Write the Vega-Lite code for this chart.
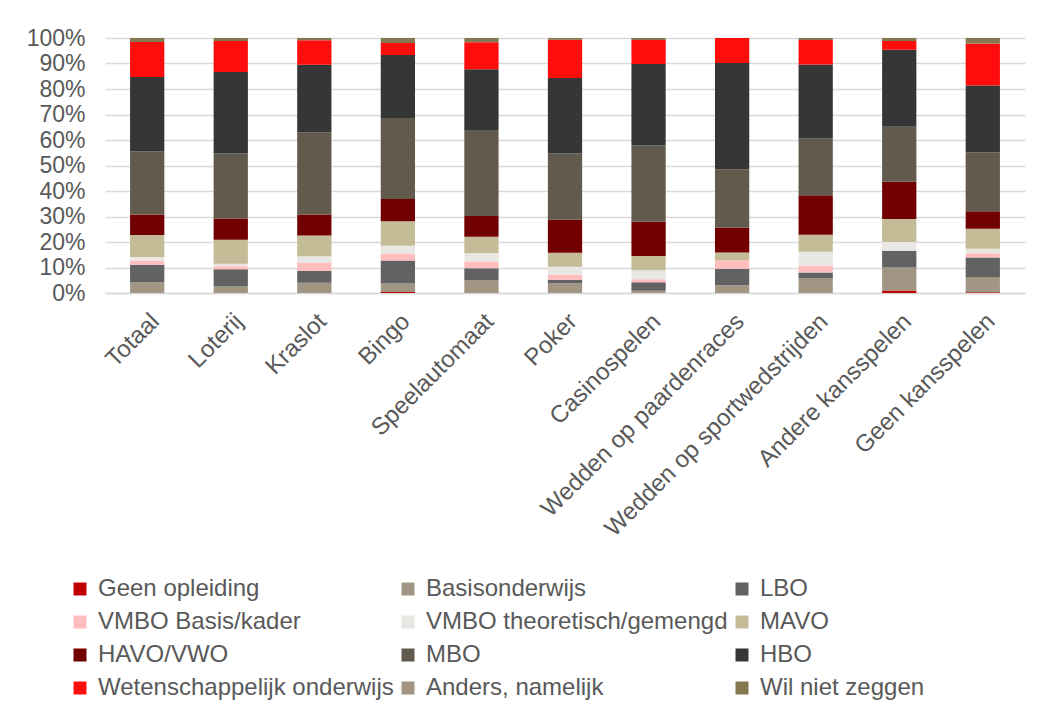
{
  "$schema": "https://vega.github.io/schema/vega-lite/v6.json",
  "autosize": "none",
  "width": 920,
  "height": 255,
  "padding": {"left": 105, "top": 38, "right": 34, "bottom": 422},
  "background": "white",
  "config": {
    "font": "Liberation Sans",
    "view": {"stroke": null}
  },
  "data": {
    "values": [
      {"c": "Totaal", "n": "Basisonderwijs", "v": 4.2},
      {"c": "Totaal", "n": "LBO", "v": 6.9},
      {"c": "Totaal", "n": "VMBO Basis/kader", "v": 1.6},
      {"c": "Totaal", "n": "VMBO theoretisch/gemengd", "v": 1.4},
      {"c": "Totaal", "n": "MAVO", "v": 8.6},
      {"c": "Totaal", "n": "HAVO/VWO", "v": 8.1},
      {"c": "Totaal", "n": "MBO", "v": 24.7},
      {"c": "Totaal", "n": "HBO", "v": 29.2},
      {"c": "Totaal", "n": "Wetenschappelijk onderwijs", "v": 13.7},
      {"c": "Totaal", "n": "Wil niet zeggen", "v": 1.6},

      {"c": "Loterij", "n": "Basisonderwijs", "v": 2.5},
      {"c": "Loterij", "n": "LBO", "v": 6.8},
      {"c": "Loterij", "n": "VMBO Basis/kader", "v": 1.2},
      {"c": "Loterij", "n": "VMBO theoretisch/gemengd", "v": 1.0},
      {"c": "Loterij", "n": "MAVO", "v": 9.4},
      {"c": "Loterij", "n": "HAVO/VWO", "v": 8.3},
      {"c": "Loterij", "n": "MBO", "v": 25.5},
      {"c": "Loterij", "n": "HBO", "v": 31.9},
      {"c": "Loterij", "n": "Wetenschappelijk onderwijs", "v": 12.1},
      {"c": "Loterij", "n": "Wil niet zeggen", "v": 1.2},

      {"c": "Kraslot", "n": "Basisonderwijs", "v": 4.0},
      {"c": "Kraslot", "n": "LBO", "v": 4.6},
      {"c": "Kraslot", "n": "VMBO Basis/kader", "v": 3.3},
      {"c": "Kraslot", "n": "VMBO theoretisch/gemengd", "v": 2.5},
      {"c": "Kraslot", "n": "MAVO", "v": 8.1},
      {"c": "Kraslot", "n": "HAVO/VWO", "v": 8.3},
      {"c": "Kraslot", "n": "MBO", "v": 32.2},
      {"c": "Kraslot", "n": "HBO", "v": 26.4},
      {"c": "Kraslot", "n": "Wetenschappelijk onderwijs", "v": 9.6},
      {"c": "Kraslot", "n": "Wil niet zeggen", "v": 0.9},

      {"c": "Bingo", "n": "Geen opleiding", "v": 0.4},
      {"c": "Bingo", "n": "Basisonderwijs", "v": 3.3},
      {"c": "Bingo", "n": "LBO", "v": 9.0},
      {"c": "Bingo", "n": "VMBO Basis/kader", "v": 2.7},
      {"c": "Bingo", "n": "VMBO theoretisch/gemengd", "v": 3.1},
      {"c": "Bingo", "n": "MAVO", "v": 9.6},
      {"c": "Bingo", "n": "HAVO/VWO", "v": 8.7},
      {"c": "Bingo", "n": "MBO", "v": 31.8},
      {"c": "Bingo", "n": "HBO", "v": 24.6},
      {"c": "Bingo", "n": "Wetenschappelijk onderwijs", "v": 4.7},
      {"c": "Bingo", "n": "Wil niet zeggen", "v": 2.0},

      {"c": "Speelautomaat", "n": "Basisonderwijs", "v": 5.1},
      {"c": "Speelautomaat", "n": "LBO", "v": 4.6},
      {"c": "Speelautomaat", "n": "VMBO Basis/kader", "v": 2.6},
      {"c": "Speelautomaat", "n": "VMBO theoretisch/gemengd", "v": 3.3},
      {"c": "Speelautomaat", "n": "MAVO", "v": 6.4},
      {"c": "Speelautomaat", "n": "HAVO/VWO", "v": 8.2},
      {"c": "Speelautomaat", "n": "MBO", "v": 33.7},
      {"c": "Speelautomaat", "n": "HBO", "v": 23.8},
      {"c": "Speelautomaat", "n": "Wetenschappelijk onderwijs", "v": 10.5},
      {"c": "Speelautomaat", "n": "Wil niet zeggen", "v": 1.7},

      {"c": "Poker", "n": "Basisonderwijs", "v": 3.8},
      {"c": "Poker", "n": "LBO", "v": 1.4},
      {"c": "Poker", "n": "VMBO Basis/kader", "v": 2.0},
      {"c": "Poker", "n": "VMBO theoretisch/gemengd", "v": 3.1},
      {"c": "Poker", "n": "MAVO", "v": 5.5},
      {"c": "Poker", "n": "HAVO/VWO", "v": 12.9},
      {"c": "Poker", "n": "MBO", "v": 26.0},
      {"c": "Poker", "n": "HBO", "v": 29.6},
      {"c": "Poker", "n": "Wetenschappelijk onderwijs", "v": 15.0},
      {"c": "Poker", "n": "Wil niet zeggen", "v": 0.7},

      {"c": "Casinospelen", "n": "Basisonderwijs", "v": 0.9},
      {"c": "Casinospelen", "n": "LBO", "v": 3.3},
      {"c": "Casinospelen", "n": "VMBO Basis/kader", "v": 1.2},
      {"c": "Casinospelen", "n": "VMBO theoretisch/gemengd", "v": 3.5},
      {"c": "Casinospelen", "n": "MAVO", "v": 5.6},
      {"c": "Casinospelen", "n": "HAVO/VWO", "v": 13.5},
      {"c": "Casinospelen", "n": "MBO", "v": 29.8},
      {"c": "Casinospelen", "n": "HBO", "v": 31.9},
      {"c": "Casinospelen", "n": "Wetenschappelijk onderwijs", "v": 9.4},
      {"c": "Casinospelen", "n": "Wil niet zeggen", "v": 0.8},

      {"c": "Wedden op paardenraces", "n": "Basisonderwijs", "v": 3.0},
      {"c": "Wedden op paardenraces", "n": "LBO", "v": 6.5},
      {"c": "Wedden op paardenraces", "n": "VMBO Basis/kader", "v": 3.3},
      {"c": "Wedden op paardenraces", "n": "MAVO", "v": 3.1},
      {"c": "Wedden op paardenraces", "n": "HAVO/VWO", "v": 9.8},
      {"c": "Wedden op paardenraces", "n": "MBO", "v": 22.8},
      {"c": "Wedden op paardenraces", "n": "HBO", "v": 41.7},
      {"c": "Wedden op paardenraces", "n": "Wetenschappelijk onderwijs", "v": 9.8},

      {"c": "Wedden op sportwedstrijden", "n": "Basisonderwijs", "v": 5.9},
      {"c": "Wedden op sportwedstrijden", "n": "LBO", "v": 2.1},
      {"c": "Wedden op sportwedstrijden", "n": "VMBO Basis/kader", "v": 2.7},
      {"c": "Wedden op sportwedstrijden", "n": "VMBO theoretisch/gemengd", "v": 5.5},
      {"c": "Wedden op sportwedstrijden", "n": "MAVO", "v": 6.6},
      {"c": "Wedden op sportwedstrijden", "n": "HAVO/VWO", "v": 15.5},
      {"c": "Wedden op sportwedstrijden", "n": "MBO", "v": 22.3},
      {"c": "Wedden op sportwedstrijden", "n": "HBO", "v": 28.9},
      {"c": "Wedden op sportwedstrijden", "n": "Wetenschappelijk onderwijs", "v": 9.6},
      {"c": "Wedden op sportwedstrijden", "n": "Wil niet zeggen", "v": 0.8},

      {"c": "Andere kansspelen", "n": "Geen opleiding", "v": 1.0},
      {"c": "Andere kansspelen", "n": "Basisonderwijs", "v": 9.0},
      {"c": "Andere kansspelen", "n": "LBO", "v": 6.6},
      {"c": "Andere kansspelen", "n": "VMBO theoretisch/gemengd", "v": 3.4},
      {"c": "Andere kansspelen", "n": "MAVO", "v": 9.0},
      {"c": "Andere kansspelen", "n": "HAVO/VWO", "v": 14.6},
      {"c": "Andere kansspelen", "n": "MBO", "v": 21.5},
      {"c": "Andere kansspelen", "n": "HBO", "v": 30.2},
      {"c": "Andere kansspelen", "n": "Wetenschappelijk onderwijs", "v": 3.4},
      {"c": "Andere kansspelen", "n": "Wil niet zeggen", "v": 1.2},

      {"c": "Geen kansspelen", "n": "Geen opleiding", "v": 0.3},
      {"c": "Geen kansspelen", "n": "Basisonderwijs", "v": 6.0},
      {"c": "Geen kansspelen", "n": "LBO", "v": 7.6},
      {"c": "Geen kansspelen", "n": "VMBO Basis/kader", "v": 1.7},
      {"c": "Geen kansspelen", "n": "VMBO theoretisch/gemengd", "v": 1.7},
      {"c": "Geen kansspelen", "n": "MAVO", "v": 7.8},
      {"c": "Geen kansspelen", "n": "HAVO/VWO", "v": 6.9},
      {"c": "Geen kansspelen", "n": "MBO", "v": 23.0},
      {"c": "Geen kansspelen", "n": "HBO", "v": 26.2},
      {"c": "Geen kansspelen", "n": "Wetenschappelijk onderwijs", "v": 16.4},
      {"c": "Geen kansspelen", "n": "Wil niet zeggen", "v": 2.2}
    ]
  },
  "transform": [
    {"calculate": "indexof(['Geen opleiding', 'Basisonderwijs', 'LBO', 'VMBO Basis/kader', 'VMBO theoretisch/gemengd', 'MAVO', 'HAVO/VWO', 'MBO', 'HBO', 'Wetenschappelijk onderwijs', 'Anders, namelijk', 'Wil niet zeggen'], datum.n)", "as": "k"}
  ],
  "mark": {"type": "bar"},
  "encoding": {
    "x": {
      "field": "c",
      "type": "nominal",
      "sort": null,
      "scale": {"paddingInner": 0.59, "paddingOuter": 0.3},
      "axis": {
        "title": null,
        "labelAngle": -45,
        "labelFontSize": 24,
        "labelColor": "#595959",
        "labelPadding": 16,
        "labelLimit": 400,
        "ticks": false,
        "domainColor": "#D9D9D9",
        "domainWidth": 1.5
      }
    },
    "y": {
      "field": "v",
      "type": "quantitative",
      "stack": "normalize",
      "scale": {"domain": [0, 1], "nice": false},
      "axis": {
        "title": null,
        "format": ".0%",
        "values": [0, 0.1, 0.2, 0.3, 0.4, 0.5, 0.6, 0.7, 0.8, 0.9, 1],
        "labelFontSize": 23,
        "labelColor": "#595959",
        "labelPadding": 20,
        "ticks": false,
        "domain": false,
        "gridColor": "#D9D9D9",
        "gridWidth": 1.5
      }
    },
    "order": {"field": "k", "type": "quantitative", "sort": "ascending"},
    "color": {
      "field": "n",
      "type": "nominal",
      "scale": {
        "domain": ["Geen opleiding", "Basisonderwijs", "LBO", "VMBO Basis/kader", "VMBO theoretisch/gemengd", "MAVO", "HAVO/VWO", "MBO", "HBO", "Wetenschappelijk onderwijs", "Anders, namelijk", "Wil niet zeggen"],
        "range": ["#C00000", "#A09683", "#626262", "#FFBDBD", "#E9E7E3", "#C4BC96", "#720000", "#625A4C", "#363636", "#FF0D0D", "#A09683", "#83784F"]
      },
      "legend": {
        "title": null,
        "orient": "none",
        "direction": "horizontal",
        "legendX": -37,
        "legendY": 539,
        "columns": 3,
        "symbolType": "square",
        "symbolSize": 169,
        "symbolStrokeWidth": 0,
        "labelFontSize": 24,
        "labelColor": "#595959",
        "labelOffset": 6,
        "labelLimit": 400,
        "rowPadding": 9,
        "columnPadding": 2
      }
    }
  }
}
